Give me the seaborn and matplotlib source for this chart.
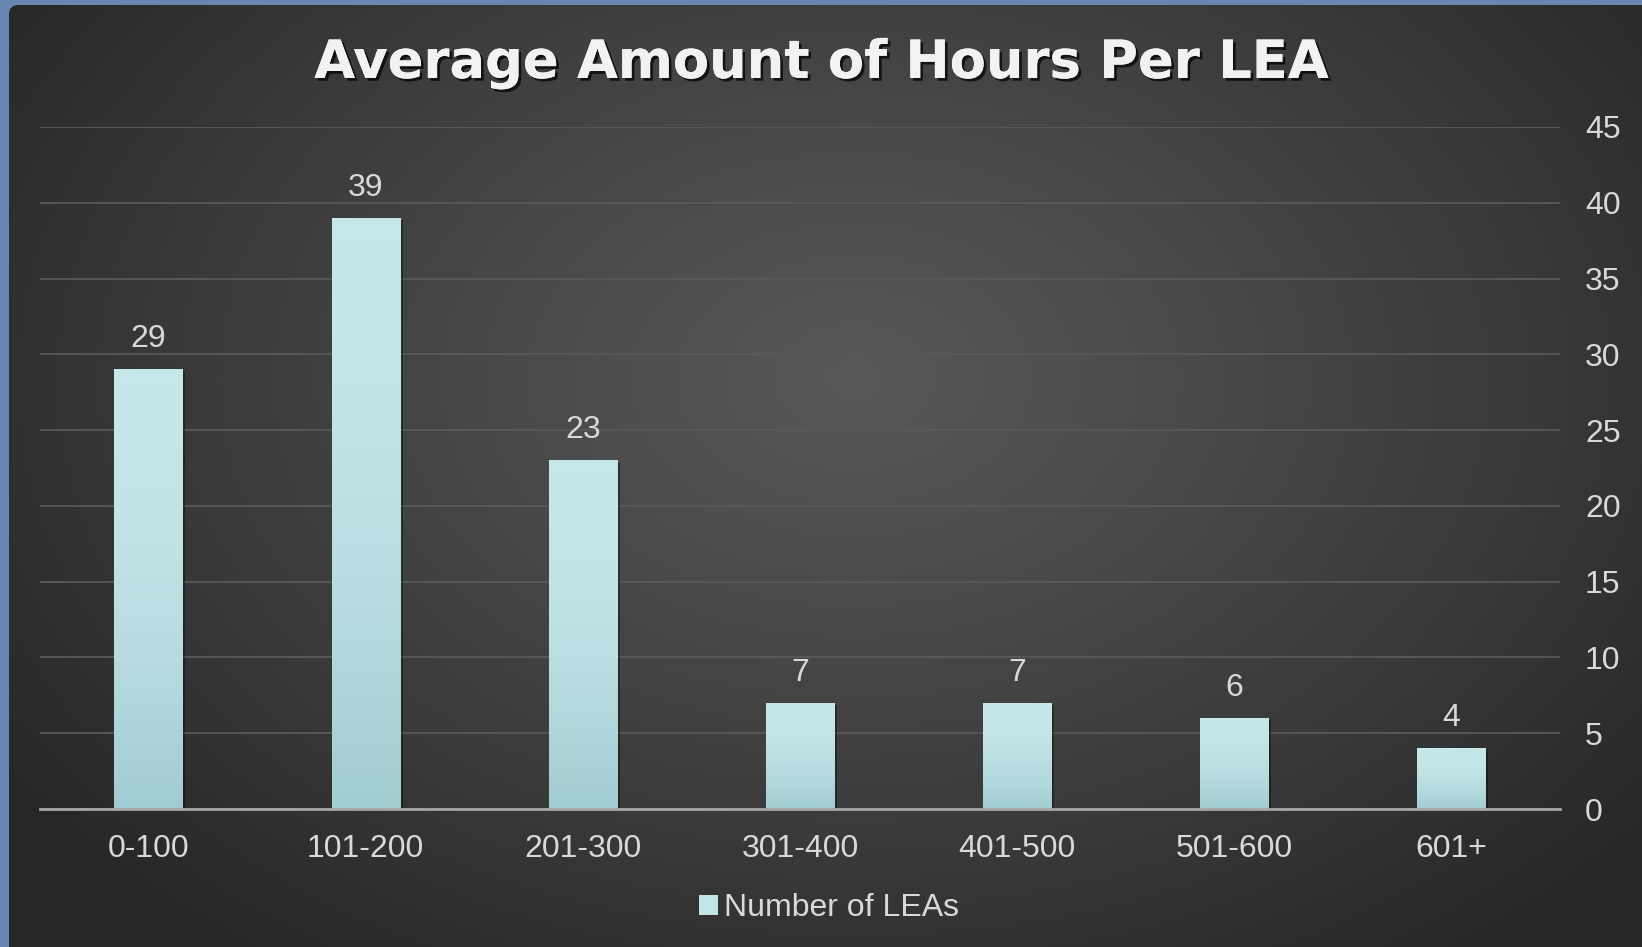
import numpy as np
import matplotlib
matplotlib.use("Agg")
import matplotlib.pyplot as plt
import matplotlib.patheffects as pe
from matplotlib.patches import FancyBboxPatch, Rectangle
import seaborn as sns

categories = ["0-100", "101-200", "201-300", "301-400", "401-500", "501-600", "601+"]
values = [29, 39, 23, 7, 7, 6, 4]
y_ticks = [0, 5, 10, 15, 20, 25, 30, 35, 40, 45]
title = "Average Amount of Hours Per LEA"
series_name = "Number of LEAs"

sns.set_theme(style="dark")
plt.rcParams["font.family"] = ["Liberation Sans", "DejaVu Sans"]

W, H = 1642, 947
fig = plt.figure(figsize=(W / 100, H / 100), dpi=100)
fig.patch.set_facecolor("#6786b0")

# background panel with radial gradient
bg = fig.add_axes([0, 0, 1, 1])
bg.set_xlim(0, W)
bg.set_ylim(H, 0)
bg.axis("off")
px0, py0 = 9, 5
panel = FancyBboxPatch((px0, py0), W - px0 + 20, H - py0 + 20,
                       boxstyle="round,pad=0,rounding_size=10",
                       facecolor="#2a2a2a", edgecolor="none")
bg.add_patch(panel)
yy, xx = np.mgrid[0:H, 0:W]
cx, cy = W * 0.52, H * 0.40
r = np.sqrt(((xx - cx) / (W * 0.62)) ** 2 + ((yy - cy) / (H * 0.75)) ** 2)
r = np.clip(r, 0, 1)
lum = 0.345 - (0.345 - 0.155) * r ** 1.1
img = np.dstack([lum, lum, lum])
im = bg.imshow(img, extent=(0, W, H, 0), aspect="auto", zorder=1)
im.set_clip_path(panel)

# main axes
ax = fig.add_axes([40 / W, 1 - 809 / H, 1520 / W, 682 / H])
ax.set_facecolor("none")
sns.barplot(x=categories, y=values, ax=ax, width=0.315, color="#c3e5e8",
            saturation=1, zorder=3, edgecolor="none", linewidth=0)
ax.set_xlim(-0.5, len(categories) - 0.5)
ax.set_ylim(0, 45)

grad = np.linspace(0, 1, 256).reshape(-1, 1)
top = np.array([0.776, 0.906, 0.914])
bot = np.array([0.63, 0.80, 0.82])
gimg = np.zeros((256, 1, 3))
for c in range(3):
    gimg[:, 0, c] = top[c] + (bot[c] - top[c]) * grad[:, 0] ** 2
for p in list(ax.patches):
    x0, y0 = p.get_x(), p.get_y()
    w, h = p.get_width(), p.get_height()
    # shadow
    sh = Rectangle((x0 + 0.012, y0), w, h - 0.15, facecolor="black", alpha=0.35,
                   edgecolor="none", zorder=2)
    ax.add_patch(sh)
    gi = ax.imshow(gimg, extent=(x0, x0 + w, y0, y0 + h), aspect="auto",
                   zorder=4, origin="upper")
    gi.set_clip_path(p)
    ax.text(x0 + w / 2, y0 + h + 1.0, f"{p.get_height():g}", ha="center",
            va="bottom", color="#d9d9d9", fontsize=23, zorder=5)
ax.set_xlim(-0.5, len(categories) - 0.5)
ax.set_ylim(0, 45)

ax.yaxis.tick_right()
ax.set_yticks(y_ticks)
ax.set_yticklabels([str(t) for t in y_ticks])
ax.tick_params(axis="y", colors="#d9d9d9", labelsize=23, length=0, pad=18)
ax.tick_params(axis="x", colors="#d9d9d9", labelsize=23, length=0, pad=18)
ax.grid(axis="y", color="#595959", linewidth=1.3, zorder=0)
ax.grid(axis="x", visible=False)
for s in ["top", "left", "right"]:
    ax.spines[s].set_visible(False)
ax.spines["bottom"].set_color("#a6a6a6")
ax.spines["bottom"].set_linewidth(2)
ax.spines["bottom"].set_zorder(6)
ax.set_xlabel("")
ax.set_ylabel("")

fig.text(0.5, 1 - 63 / H, title, ha="center", va="center", color="#f2f2f2",
         fontsize=38, fontweight="bold", family=["DejaVu Sans"],
         path_effects=[pe.withSimplePatchShadow(offset=(2, -2), shadow_rgbFace="black", alpha=0.7),
                       pe.Normal()])

handle = Rectangle((0, 0), 1, 1, facecolor="#c3e5e8", edgecolor="none")
fig.legend([handle], [series_name], loc="center", bbox_to_anchor=(0.505, 1 - 908 / H),
           frameon=False, fontsize=23, labelcolor="#d9d9d9", handlelength=0.6,
           handleheight=0.6, handletextpad=0.2)

fig.savefig("out.png", dpi=100, facecolor=fig.get_facecolor())
